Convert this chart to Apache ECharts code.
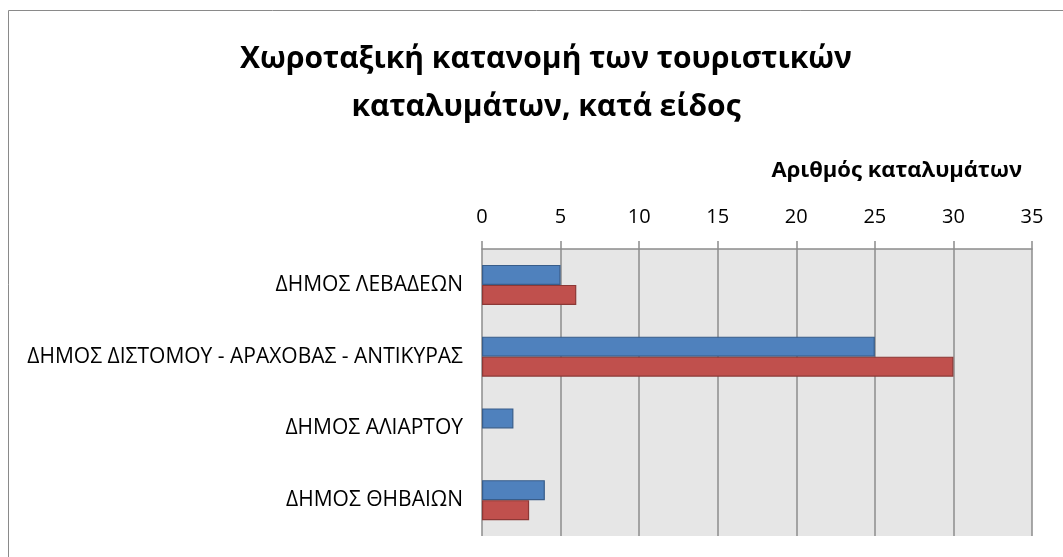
<!DOCTYPE html>
<html>
<head>
<meta charset="utf-8">
<script src="https://cdn.jsdelivr.net/npm/echarts@6/dist/echarts.min.js"></script>
<style>
html,body{margin:0;padding:0;background:#fff;}
#c{width:1063px;height:557px;}
</style>
</head>
<body>
<div id="c"></div>
<script>
const categories = ['ΔΗΜΟΣ ΛΕΒΑΔΕΩΝ', 'ΔΗΜΟΣ ΔΙΣΤΟΜΟΥ - ΑΡΑΧΟΒΑΣ - ΑΝΤΙΚΥΡΑΣ', 'ΔΗΜΟΣ ΑΛΙΑΡΤΟΥ', 'ΔΗΜΟΣ ΘΗΒΑΙΩΝ'];
const seriesBlue = [5, 25, 2, 4];
const seriesRed = [6, 30, 0, 3];
const titleText = 'Χωροταξική κατανομή των τουριστικών\nκαταλυμάτων, κατά είδος';
const axisName = 'Αριθμός καταλυμάτων';
const xMin = 0, xMax = 35, xInterval = 5;

const FONT = '"Open Sans", "Noto Sans", sans-serif';
function toItems(arr) {
  return arr.map(v => v === 0 ? {value: v, itemStyle: {borderWidth: 0}} : v);
}
const chart = echarts.init(document.getElementById('c'));
chart.setOption({
  animation: false,
  backgroundColor: '#ffffff',
  graphic: [{
    type: 'rect', shape: {x: 8.5, y: 10.5, width: 1100, height: 600},
    style: {fill: 'none', stroke: '#8a8a8a', lineWidth: 1}, z: -10
  }],
  title: [{
    text: titleText,
    left: 541, top: 30, textAlign: 'center',
    textStyle: {fontFamily: FONT, fontWeight: 'bold', fontSize: 30, color: '#000', lineHeight: 48}
  }, {
    text: axisName,
    right: 36, top: 155,
    textStyle: {fontFamily: FONT, fontWeight: 'bold', fontSize: 22, color: '#000'}
  }],
  grid: {left: 482, right: 31, top: 249, bottom: 21, show: true, backgroundColor: '#e6e6e6', borderWidth: 0},
  xAxis: {
    type: 'value', position: 'top', min: xMin, max: xMax, interval: xInterval,
    axisLine: {show: true, lineStyle: {color: '#8c8c8c', width: 1.5}},
    axisTick: {show: true, length: 8, lineStyle: {color: '#8c8c8c', width: 1.5}},
    axisLabel: {fontFamily: FONT, fontSize: 20, color: '#000', margin: 22},
    splitLine: {show: true, lineStyle: {color: '#8c8c8c', width: 1.5}}
  },
  yAxis: {
    type: 'category', data: categories, inverse: true,
    axisLine: {show: false}, axisTick: {show: false},
    axisLabel: {fontFamily: FONT, fontSize: 21, color: '#000', margin: 19}
  },
  series: [{
    type: 'bar', data: toItems(seriesBlue), barWidth: 20, barGap: '0%',
    itemStyle: {color: '#4f81bd', borderColor: '#385d8a', borderWidth: 1.2}
  }, {
    type: 'bar', data: toItems(seriesRed), barWidth: 20, barGap: '0%',
    itemStyle: {color: '#c0504d', borderColor: '#8c3836', borderWidth: 1.2}
  }]
});
</script>
</body>
</html>
